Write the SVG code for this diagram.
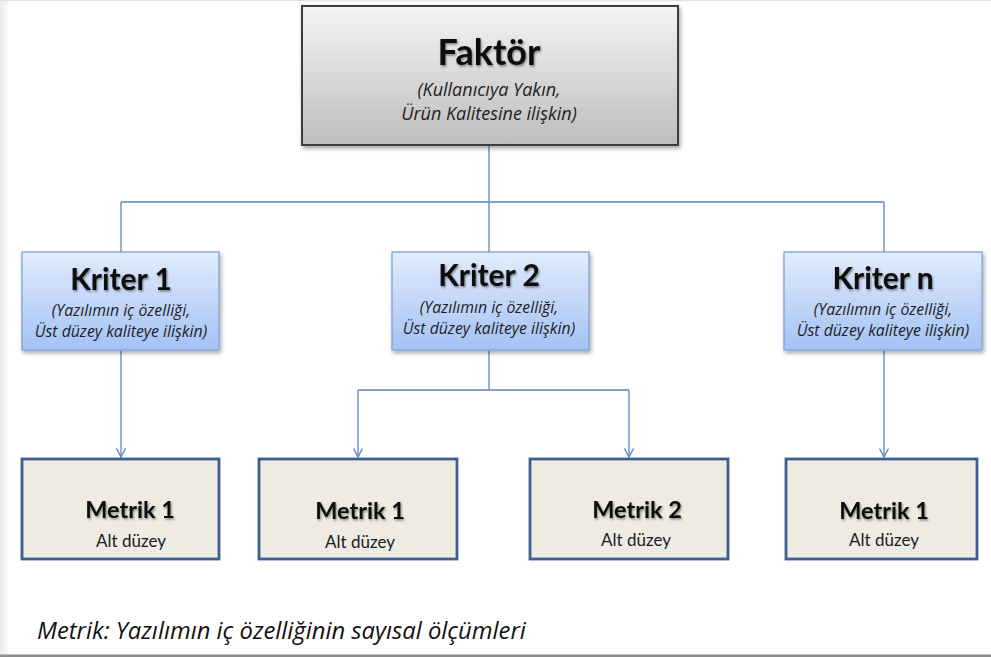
<svg xmlns="http://www.w3.org/2000/svg" width="991" height="657" viewBox="0 0 991 657">
  <defs>
    <linearGradient id="gFactor" x1="0" y1="0" x2="0" y2="1">
      <stop offset="0" stop-color="#f4f4f4"/>
      <stop offset="1" stop-color="#bdbdbd"/>
    </linearGradient>
    <linearGradient id="gCrit" x1="0" y1="0" x2="0" y2="1">
      <stop offset="0" stop-color="#e2ecfc"/>
      <stop offset="1" stop-color="#a3c2f4"/>
    </linearGradient>
    <linearGradient id="gLeft" x1="0" y1="0" x2="1" y2="0">
      <stop offset="0" stop-color="#e9e9e9"/>
      <stop offset="1" stop-color="#f9f9f9"/>
    </linearGradient>
    <filter id="boxShadow" x="-10%" y="-10%" width="125%" height="130%">
      <feDropShadow dx="1.5" dy="2.5" stdDeviation="2" flood-color="#000" flood-opacity="0.35"/>
    </filter>
    <filter id="textShadow" x="-10%" y="-20%" width="125%" height="150%">
      <feDropShadow dx="1" dy="1.5" stdDeviation="1.3" flood-color="#000" flood-opacity="0.45"/>
    </filter>
    <!-- open chevron, drawn along +x so orient="auto" points it along the line -->
    <marker id="arrow" markerWidth="12" markerHeight="12" refX="10.5" refY="6" orient="auto" markerUnits="userSpaceOnUse" viewBox="0 0 12 12">
      <path d="M2,1.5 L10.5,6 L2,10.5" fill="none" stroke="#5b86c4" stroke-width="1.4"/>
    </marker>
  </defs>
  <style>
    .conn { fill: none; stroke: #5b86c4; stroke-width: 1.3; }
    .title { font-family: Lato, "Open Sans", "Liberation Sans", sans-serif; font-weight: bold; fill: #0d0d0d; text-anchor: middle; filter: url(#textShadow); }
    .sub { font-family: "Open Sans", Lato, "Liberation Sans", sans-serif; font-style: italic; fill: #1e1e1e; text-anchor: middle; }
    .alt { font-family: Lato, "Open Sans", "Liberation Sans", sans-serif; fill: #1a1a2a; text-anchor: middle; font-size: 17px; }
    .factor { fill: url(#gFactor); stroke: #3c3c3c; stroke-width: 2; filter: url(#boxShadow); }
    .crit { fill: url(#gCrit); stroke: #7ea3d8; stroke-width: 1.3; filter: url(#boxShadow); }
    .metric { fill: #eeece1; stroke: #3c5e92; stroke-width: 2.8; }
  </style>

  <!-- page frame -->
  <rect x="0" y="0" width="991" height="657" fill="#ffffff"/>
  <rect x="0" y="0" width="8" height="655" fill="url(#gLeft)"/>
  <rect x="0" y="0" width="991" height="1.2" fill="#e2e2e2"/>
  <rect x="0" y="654.5" width="991" height="2.5" fill="#8c8c8c"/>

  <!-- connectors -->
  <g id="connectors">
    <path class="conn" d="M489,145 V202 M121,202 H884"/>
    <path class="conn" d="M121,202 V252 M489,202 V252 M884,202 V252"/>
    <path class="conn" d="M121,350 V457" marker-end="url(#arrow)"/>
    <path class="conn" d="M489,350 V390 M358,390 H629"/>
    <path class="conn" d="M358,390 V457" marker-end="url(#arrow)"/>
    <path class="conn" d="M629,390 V457" marker-end="url(#arrow)"/>
    <path class="conn" d="M884,350 V457" marker-end="url(#arrow)"/>
  </g>

  <!-- factor -->
  <g id="faktor">
    <rect class="factor" x="302" y="6" width="376" height="139"/>
    <text class="title" x="489" y="65" font-size="36">Faktör</text>
    <text class="sub" x="489" y="96" font-size="18">(Kullanıcıya Yakın,</text>
    <text class="sub" x="489" y="120" font-size="18">Ürün Kalitesine ilişkin)</text>
  </g>

  <!-- criteria -->
  <g id="kriter1">
    <rect class="crit" x="22" y="252" width="197" height="98"/>
    <text class="title" x="121" y="290" font-size="30">Kriter 1</text>
    <text class="sub" x="121" y="316" font-size="15.8">(Yazılımın iç özelliği,</text>
    <text class="sub" x="121" y="337" font-size="15.8">Üst düzey kaliteye ilişkin)</text>
  </g>
  <g id="kriter2">
    <rect class="crit" x="392" y="252" width="197" height="98"/>
    <text class="title" x="489" y="286" font-size="30">Kriter 2</text>
    <text class="sub" x="489" y="313" font-size="15.8">(Yazılımın iç özelliği,</text>
    <text class="sub" x="489" y="334" font-size="15.8">Üst düzey kaliteye ilişkin)</text>
  </g>
  <g id="kritern">
    <rect class="crit" x="784" y="252" width="198" height="98"/>
    <text class="title" x="883" y="289" font-size="30">Kriter n</text>
    <text class="sub" x="883" y="315" font-size="15.8">(Yazılımın iç özelliği,</text>
    <text class="sub" x="883" y="336" font-size="15.8">Üst düzey kaliteye ilişkin)</text>
  </g>

  <!-- metrics -->
  <g id="metrik1a">
    <rect class="metric" x="22" y="459" width="197" height="100"/>
    <text class="title" x="130" y="518" font-size="23.5">Metrik 1</text>
    <text class="alt" x="131" y="547">Alt düzey</text>
  </g>
  <g id="metrik1b">
    <rect class="metric" x="259" y="459" width="198" height="100"/>
    <text class="title" x="360" y="519" font-size="23.5">Metrik 1</text>
    <text class="alt" x="360" y="548">Alt düzey</text>
  </g>
  <g id="metrik2">
    <rect class="metric" x="530" y="459" width="198" height="100"/>
    <text class="title" x="637" y="518" font-size="23.5">Metrik 2</text>
    <text class="alt" x="636" y="546">Alt düzey</text>
  </g>
  <g id="metrik1c">
    <rect class="metric" x="786" y="459" width="191" height="100"/>
    <text class="title" x="884" y="519" font-size="23.5">Metrik 1</text>
    <text class="alt" x="884" y="546">Alt düzey</text>
  </g>

  <!-- footnote -->
  <text x="37" y="639" font-family="'Open Sans', Lato, 'Liberation Sans', sans-serif" font-style="italic" font-size="23.8" fill="#111">Metrik: Yazılımın iç özelliğinin sayısal ölçümleri</text>
</svg>
